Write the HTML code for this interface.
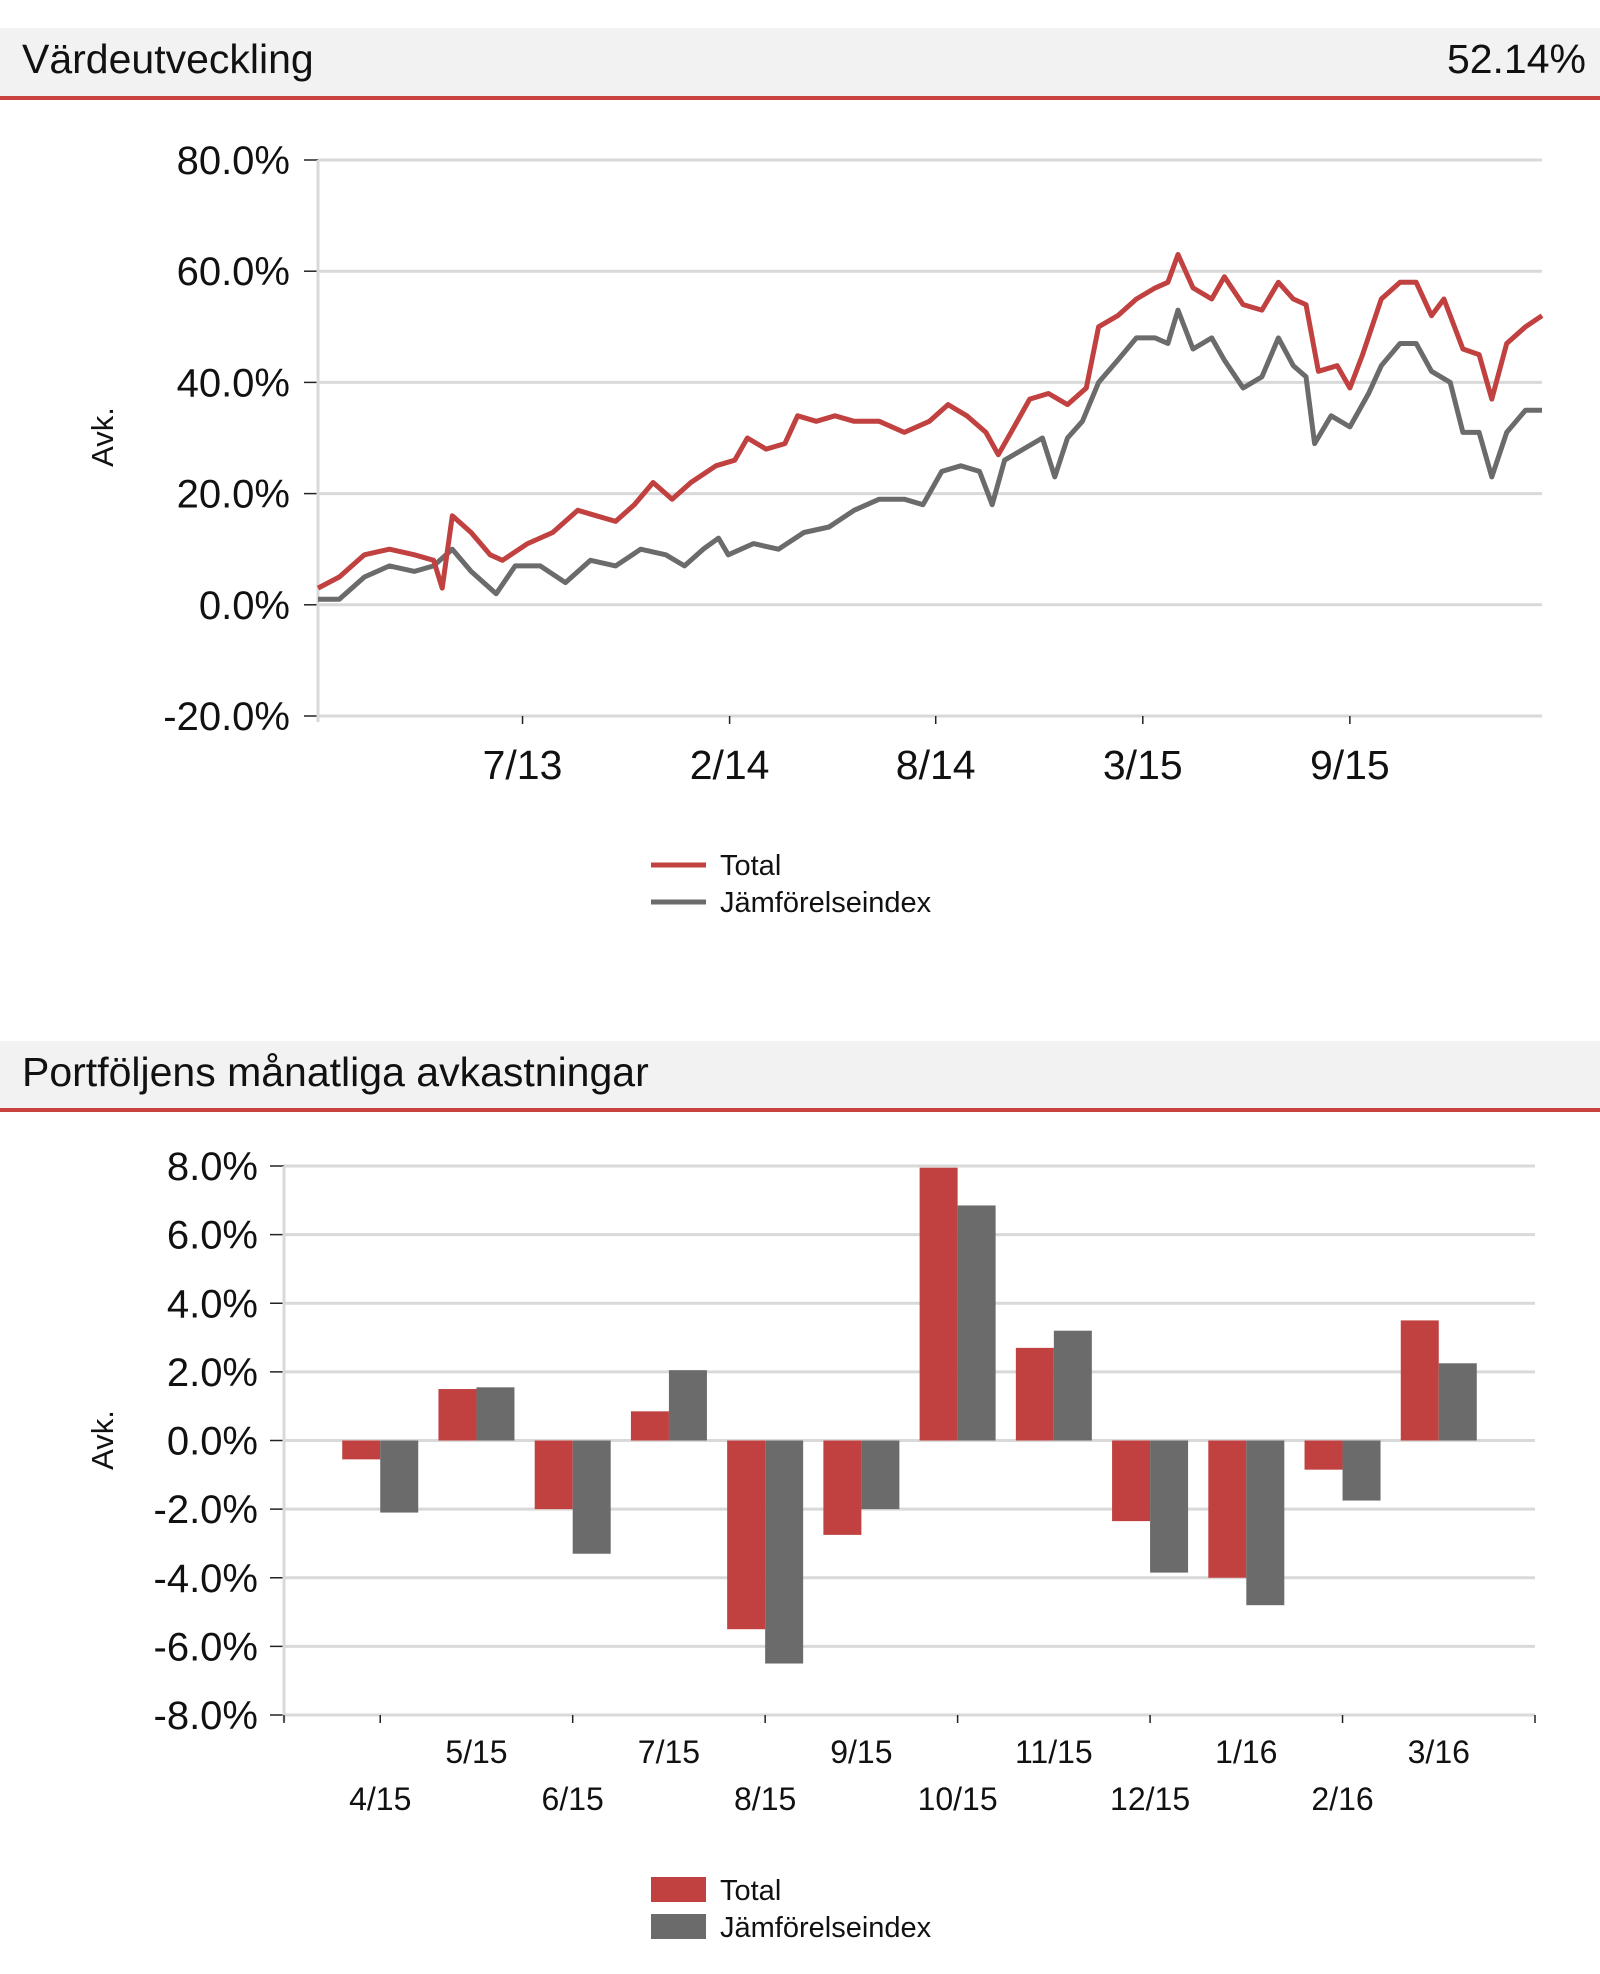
<!DOCTYPE html>
<html><head><meta charset="utf-8"><style>
html,body{margin:0;padding:0;background:#fff;width:1600px;height:1974px;overflow:hidden}
svg{display:block;font-family:"Liberation Sans",Arial,sans-serif}
</style></head><body>
<svg id="svg" width="1600" height="1974" viewBox="0 0 1600 1974" xmlns="http://www.w3.org/2000/svg">
<g>
<rect x="0" y="28" width="1600" height="69" fill="#f2f2f2"/>
<rect x="0" y="96" width="1600" height="4" fill="#c8423f"/>
<text x="22" y="73" font-size="41" fill="#111">Värdeutveckling</text>
<text x="1586" y="73" font-size="41" fill="#111" text-anchor="end">52.14%</text>
</g>
<g id="c1"></g>
<g>
<rect x="0" y="1041" width="1600" height="68" fill="#f2f2f2"/>
<rect x="0" y="1108" width="1600" height="4" fill="#c8423f"/>
<text x="22" y="1086" font-size="41" fill="#111">Portföljens månatliga avkastningar</text>
</g>
<g id="c2"></g>
</svg>
<script>
// ---- line chart data (months since start, % return)
const totalMonths=[0,0.67,1.46,2.25,3.04,3.64,3.91,4.23,4.82,5.42,5.81,6.6,7.39,8.18,8.77,9.37,9.96,10.55,11.15,11.74,12.53,13.12,13.52,14.11,14.7,15.1,15.69,16.28,16.88,17.67,18.46,19.25,19.84,20.43,21.03,21.42,21.82,22.41,23.0,23.6,24.19,24.58,25.18,25.77,26.36,26.76,27.08,27.55,28.14,28.54,29.13,29.72,30.24,30.71,31.11,31.5,32.09,32.49,32.89,33.48,34.07,34.58,35.06,35.45,36.05,36.56,36.96,37.43,38.02,38.54];
const totalVals=[3,5,9,10,9,8,3,16,13,9,8,11,13,17,16,15,18,22,19,22,25,26,30,28,29,34,33,34,33,33,31,33,36,34,31,27,31,37,38,36,39,50,52,55,57,58,63,57,55,59,54,53,58,55,54,42,43,39,45,55,58,58,52,55,46,45,37,47,50,52];
const indexMonths=[0,0.67,1.46,2.25,3.04,3.64,4.23,4.82,5.61,6.21,7.0,7.79,8.58,9.37,10.16,10.95,11.54,12.13,12.61,12.92,13.71,14.5,15.3,16.09,16.88,17.67,18.46,19.05,19.64,20.24,20.83,21.23,21.62,22.21,22.81,23.2,23.6,24.07,24.58,25.18,25.77,26.36,26.76,27.08,27.55,28.14,28.54,29.13,29.72,30.24,30.71,31.11,31.38,31.9,32.49,33.08,33.48,34.07,34.58,35.06,35.65,36.05,36.56,36.96,37.43,38.02,38.54];
const indexVals=[1,1,5,7,6,7,10,6,2,7,7,4,8,7,10,9,7,10,12,9,11,10,13,14,17,19,19,18,24,25,24,18,26,28,30,23,30,33,40,44,48,48,47,53,46,48,44,39,41,48,43,41,29,34,32,38,43,47,47,42,40,31,31,23,31,35,35];
const xTickMonths=[6.44,12.96,19.45,25.97,32.49];
const xTickLabels=["7/13","2/14","8/14","3/15","9/15"];
const yTicks1=[80,60,40,20,0,-20];
// ---- bar chart data
const months=["4/15","5/15","6/15","7/15","8/15","9/15","10/15","11/15","12/15","1/16","2/16","3/16"];
const barTotal=[-0.55,1.5,-2.0,0.85,-5.5,-2.75,7.95,2.7,-2.35,-4.0,-0.85,3.5];
const barIndex=[-2.1,1.55,-3.3,2.05,-6.5,-2.0,6.85,3.2,-3.85,-4.8,-1.75,2.25];
const yTicks2=[8,6,4,2,0,-2,-4,-6,-8];

const NS="http://www.w3.org/2000/svg";
function mk(p,tag,a,txt){const e=document.createElementNS(NS,tag);for(const k in a)e.setAttribute(k,a[k]);if(txt!==undefined)e.textContent=txt;p.appendChild(e);return e;}
const RED="#c0413f",GRAY="#6b6b6b",GRID="#d9d9d9";

// ===== line chart
const c1=document.getElementById('c1');
const L={x0:318,x1:1542,ymin:-20,ymax:80,yTop:160,yBot:716,mMax:38.54};
const X1=m=>L.x0+(m/L.mMax)*(L.x1-L.x0);
const Y1=v=>L.yBot-(v-L.ymin)/(L.ymax-L.ymin)*(L.yBot-L.yTop);
yTicks1.forEach(v=>{
  const g=mk(c1,'line',{x1:L.x0,x2:L.x1,y1:Y1(v),y2:Y1(v),stroke:GRID,'stroke-width':3});
  
  
  const t=mk(c1,'line',{x1:L.x0-14,x2:L.x0,y1:Y1(v),y2:Y1(v),stroke:'#222','stroke-width':1.5});
  
  
  const l=mk(c1,'text',{x:290,y:Y1(v)+14,'font-size':40,'text-anchor':'end',fill:'#111'},v.toFixed(1)+'%');
  
  
});
const ax=mk(c1,'line',{x1:L.x0,x2:L.x0,y1:L.yTop,y2:L.yBot+6,stroke:GRID,'stroke-width':3});


xTickMonths.forEach((m,i)=>{
  const t=mk(c1,'line',{x1:X1(m),x2:X1(m),y1:L.yBot,y2:L.yBot+8,stroke:'#222','stroke-width':1.5});
  
  
  const l=mk(c1,'text',{x:X1(m),y:779,'font-size':41,'text-anchor':'middle',fill:'#111'},xTickLabels[i]);
  
  
});
const yt=mk(c1,'text',{x:0,y:0,'font-size':31,'text-anchor':'middle',fill:'#111',transform:'translate(113,437) rotate(-90)'},'Avk.');


function path(ms,vs){return ms.map((m,i)=>(i?'L':'M')+X1(m).toFixed(1)+' '+Y1(vs[i]).toFixed(1)).join(' ');}
const pi=mk(c1,'path',{d:path(indexMonths,indexVals),fill:'none',stroke:GRAY,'stroke-width':5,'stroke-linejoin':'round'});


const pt=mk(c1,'path',{d:path(totalMonths,totalVals),fill:'none',stroke:RED,'stroke-width':5,'stroke-linejoin':'round'});


[[RED,'Total',865],[GRAY,'Jämförelseindex',902]].forEach(([c,n,y])=>{
  const s=mk(c1,'line',{x1:651,x2:706,y1:y,y2:y,stroke:c,'stroke-width':5});
  
  
  const t=mk(c1,'text',{x:720,y:y+10,'font-size':29,fill:'#111'},n);
  
  
});

// ===== bar chart
const c2=document.getElementById('c2');
const B={x0:284,x1:1535,ymin:-8,ymax:8,yTop:1166,yBot:1715,bw:38};
const slot=(B.x1-B.x0)/(months.length+1);
const Xc=i=>B.x0+(i+1)*slot;
const Y2=v=>B.yBot-(v-B.ymin)/(B.ymax-B.ymin)*(B.yBot-B.yTop);
yTicks2.forEach(v=>{
  const g=mk(c2,'line',{x1:B.x0,x2:B.x1,y1:Y2(v),y2:Y2(v),stroke:GRID,'stroke-width':3});
  
  
  const t=mk(c2,'line',{x1:B.x0-14,x2:B.x0,y1:Y2(v),y2:Y2(v),stroke:'#222','stroke-width':1.5});
  
  
  const l=mk(c2,'text',{x:258,y:Y2(v)+14,'font-size':40,'text-anchor':'end',fill:'#111'},v.toFixed(1)+'%');
  
  
});
const ax2=mk(c2,'line',{x1:B.x0,x2:B.x0,y1:B.yTop,y2:B.yBot+6,stroke:GRID,'stroke-width':3});


const xa2=mk(c2,'line',{x1:B.x0,x2:B.x1,y1:B.yBot,y2:B.yBot,stroke:GRID,'stroke-width':3});


[B.x0].concat(months.map((m,i)=>Xc(i)).filter((x,i)=>i%2===0)).concat([B.x1]).forEach(x=>{
  const t=mk(c2,'line',{x1:x,x2:x,y1:B.yBot,y2:B.yBot+8,stroke:'#222','stroke-width':1.5});
  
  
});
const yt2=mk(c2,'text',{x:0,y:0,'font-size':31,'text-anchor':'middle',fill:'#111',transform:'translate(113,1440) rotate(-90)'},'Avk.');


months.forEach((m,i)=>{
  const c=Xc(i);
  const vt=barTotal[i],vi=barIndex[i];
  const r=mk(c2,'rect',{x:c-B.bw,y:Math.min(Y2(vt),Y2(0)),width:B.bw,height:Math.abs(Y2(vt)-Y2(0)),fill:RED});
  
  
  const g=mk(c2,'rect',{x:c,y:Math.min(Y2(vi),Y2(0)),width:B.bw,height:Math.abs(Y2(vi)-Y2(0)),fill:GRAY});
  
  
  const l=mk(c2,'text',{x:c,y:i%2===0?1810:1763,'font-size':32,'text-anchor':'middle',fill:'#111'},m);
  
  
});
[[RED,'Total',1877],[GRAY,'Jämförelseindex',1914]].forEach(([c,n,y])=>{
  const s=mk(c2,'rect',{x:651,y:y,width:55,height:25,fill:c});
  
  
  const t=mk(c2,'text',{x:720,y:y+23,'font-size':29,fill:'#111'},n);
  
  
});
</script>
</body></html>
